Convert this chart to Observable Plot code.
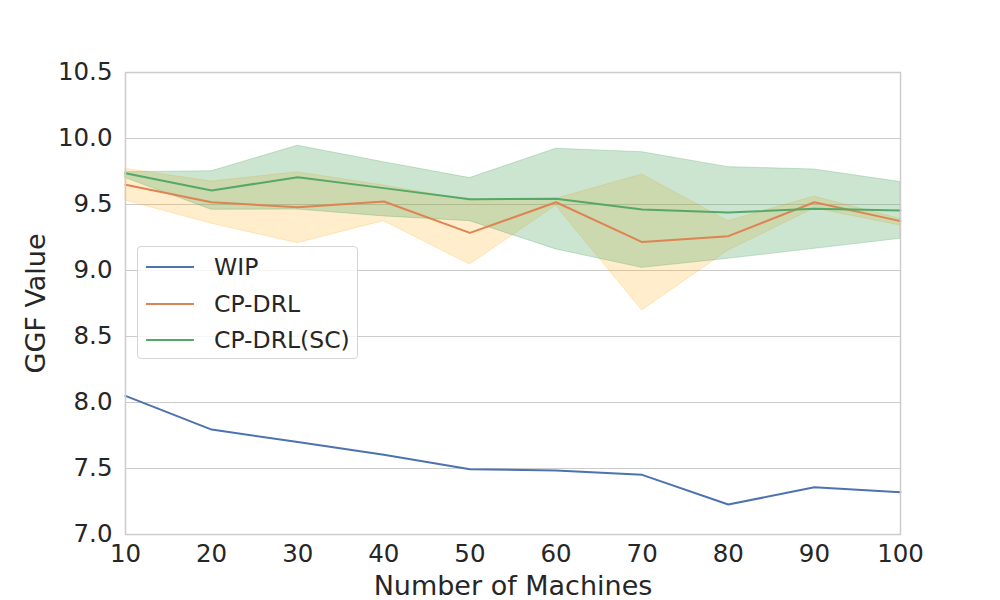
<!DOCTYPE html>
<html><head><meta charset="utf-8">
<script src="https://cdn.jsdelivr.net/npm/d3@7"></script>
<script src="https://cdn.jsdelivr.net/npm/@observablehq/plot@0.6"></script>
<style>
html,body{margin:0;padding:0;background:#fff;}
#wrap{position:relative;width:1000px;height:600px;font-family:"DejaVu Sans",sans-serif;color:#262626;}
#legend{position:absolute;left:137px;top:246px;width:221px;height:113px;box-sizing:border-box;border:1px solid #d5d5d5;border-radius:4px;background:rgba(255,255,255,0.8);font-size:23.5px;}
.row{position:absolute;left:8px;height:30px;display:flex;align-items:center;}
.sw{width:48px;height:0;border-top:2px solid;margin-right:20px;}
</style></head>
<body><div id="wrap"></div>
<script>
const machines = [10, 20, 30, 40, 50, 60, 70, 80, 90, 100];
const wip      = [8.05, 7.795, 7.70, 7.605, 7.495, 7.485, 7.452, 7.227, 7.358, 7.32];
const cpdrl    = [9.65, 9.517, 9.48, 9.523, 9.285, 9.517, 9.215, 9.26, 9.517, 9.374];
const cpdrlLo  = [9.53, 9.354, 9.207, 9.374, 9.045, 9.49, 8.697, 9.15, 9.47, 9.34];
const cpdrlHi  = [9.77, 9.674, 9.745, 9.644, 9.53, 9.543, 9.727, 9.374, 9.56, 9.39];
const sc       = [9.737, 9.606, 9.707, 9.624, 9.54, 9.543, 9.462, 9.44, 9.467, 9.455];
const scLo     = [9.70, 9.46, 9.462, 9.41, 9.374, 9.16, 9.02, 9.089, 9.164, 9.24];
const scHi     = [9.745, 9.752, 9.945, 9.82, 9.70, 9.922, 9.896, 9.783, 9.765, 9.67];
const xTicks = [10, 20, 30, 40, 50, 60, 70, 80, 90, 100];
const yTicks = [7.0, 7.5, 8.0, 8.5, 9.0, 9.5, 10.0, 10.5];
const seriesNames = ["WIP", "CP-DRL", "CP-DRL(SC)"];
const seriesColors = ["#4c72b0", "#dd8452", "#55a868"];

const rows = machines.map((m, i) => ({m, wip: wip[i], cp: cpdrl[i], cpLo: cpdrlLo[i], cpHi: cpdrlHi[i], sc: sc[i], scLo: scLo[i], scHi: scHi[i]}));

const chart = Plot.plot({
  width: 1000, height: 600,
  marginLeft: 125, marginRight: 100, marginTop: 72, marginBottom: 66,
  style: {fontFamily: "DejaVu Sans, sans-serif", fontSize: "24.5px", color: "#262626", background: "#fff"},
  x: {domain: [10, 100], ticks: xTicks, tickSize: 0, tickPadding: 10, label: "Number of Machines", labelArrow: "none", labelAnchor: "center", labelOffset: 60},
  y: {domain: [7, 10.5], ticks: yTicks, tickSize: 0, tickPadding: 13, tickFormat: d3.format(".1f"), label: "GGF Value", labelArrow: "none", labelAnchor: "center", labelOffset: 100},
  marks: [
    Plot.gridY(yTicks, {stroke: "#cccccc", strokeOpacity: 1, strokeWidth: 1}),
    Plot.areaY(rows, {x: "m", y1: "cpLo", y2: "cpHi", fill: "orange", fillOpacity: 0.2, stroke: "orange", strokeOpacity: 0.2, strokeWidth: 1}),
    Plot.areaY(rows, {x: "m", y1: "scLo", y2: "scHi", fill: "#55a868", fillOpacity: 0.3, stroke: "#55a868", strokeOpacity: 0.3, strokeWidth: 1}),
    Plot.line(rows, {x: "m", y: "wip", stroke: seriesColors[0], strokeWidth: 2}),
    Plot.line(rows, {x: "m", y: "cp", stroke: seriesColors[1], strokeWidth: 2}),
    Plot.line(rows, {x: "m", y: "sc", stroke: seriesColors[2], strokeWidth: 2}),
    Plot.frame({stroke: "#cccccc", strokeWidth: 1.5})
  ]
});
chart.querySelectorAll('[aria-label="x-axis label"] text, [aria-label="y-axis label"] text').forEach(t => t.style.fontSize = "27px");
chart.querySelectorAll('text').forEach(t => t.setAttribute("fill", "#262626"));
const wrap = document.getElementById("wrap");
wrap.appendChild(chart);

const leg = document.createElement("div");
leg.id = "legend";
seriesNames.forEach((n, i) => {
  const r = document.createElement("div");
  r.className = "row";
  r.style.top = (5 + i * 36.5) + "px";
  r.innerHTML = `<span class="sw" style="border-color:${seriesColors[i]}"></span><span>${n}</span>`;
  leg.appendChild(r);
});
wrap.appendChild(leg);
</script></body></html>
